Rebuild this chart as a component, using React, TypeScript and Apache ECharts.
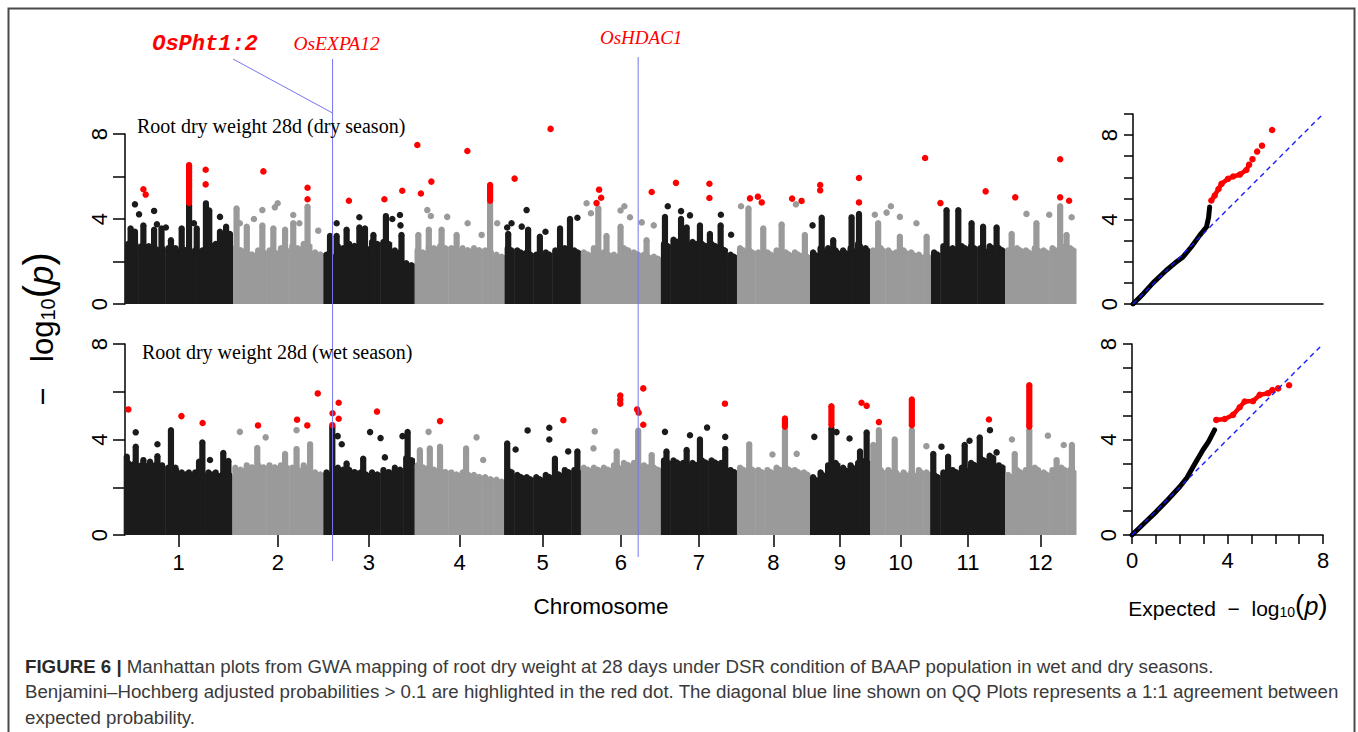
import { useEffect, useRef } from 'react';
import * as echarts from 'echarts';

// ---------- data ----------
const chromosomes = ['1', '2', '3', '4', '5', '6', '7', '8', '9', '10', '11', '12'];
const chrLengthsMb = [42.0, 35.7, 35.7, 35.3, 29.8, 31.4, 29.8, 28.6, 23.5, 23.9, 29.0, 27.8];

// dense band top (-log10 p) per chromosome, equal segments along each chromosome
const dryFloor = [
  [2.8, 2.7, 2.6, 2.6, 2.6, 2.5, 2.8, 2.6],
  [2.6, 2.4, 2.5, 2.5, 2.6, 2.7, 2.8, 2.4],
  [2.3, 2.7, 2.8, 2.7, 2.9, 2.9, 2.5, 1.9],
  [2.5, 2.7, 2.7, 2.6, 2.6, 2.6, 2.5, 2.3],
  [2.6, 2.5, 2.4, 2.3, 2.4, 2.5, 2.6, 2.5],
  [2.4, 2.6, 2.4, 2.3, 2.6, 2.4, 2.3, 2.2],
  [2.8, 3.0, 2.9, 2.9, 2.8, 2.8, 2.6, 2.3],
  [2.6, 2.5, 2.4, 2.4, 2.5, 2.4, 2.4, 2.3],
  [2.4, 2.6, 2.6, 2.5, 2.5, 2.6, 2.8, 2.6],
  [2.5, 2.6, 2.5, 2.4, 2.5, 2.4, 2.3, 2.3],
  [2.4, 2.7, 2.6, 2.7, 2.7, 2.6, 2.7, 2.6],
  [2.5, 2.6, 2.5, 2.6, 2.5, 2.6, 2.7, 2.6],
];
const wetFloor = [
  [3.0, 2.9, 2.9, 2.8, 2.6, 2.6, 2.6, 2.5],
  [2.8, 2.9, 2.9, 2.9, 2.9, 2.8, 2.9, 2.6],
  [2.6, 2.8, 2.7, 2.6, 2.6, 2.7, 2.8, 3.2],
  [2.9, 2.8, 2.7, 2.6, 2.6, 2.5, 2.4, 2.3],
  [2.7, 2.5, 2.4, 2.4, 2.5, 2.6, 2.7, 2.7],
  [2.8, 2.8, 2.8, 2.9, 3.0, 3.0, 2.9, 2.8],
  [3.1, 3.1, 3.0, 3.0, 3.1, 3.1, 3.0, 2.7],
  [2.8, 2.8, 2.7, 2.7, 2.8, 2.8, 2.7, 2.6],
  [2.4, 2.6, 2.9, 3.0, 2.8, 2.9, 3.0, 3.1],
  [2.8, 2.7, 2.7, 2.6, 2.6, 2.6, 2.7, 2.6],
  [2.5, 2.6, 2.7, 2.8, 3.0, 3.2, 3.3, 2.9],
  [2.5, 2.7, 2.7, 2.8, 2.6, 2.7, 2.8, 2.7],
];

// dense columns of SNPs: [genome position Mb, top]
const drySpikes = [
  [2.2, 3.56], [3.9, 3.4], [7.2, 3.7], [11.4, 3.5], [14.3, 3.56], [18.0, 3.0], [22.2, 3.56], [25.1, 4.66], [28.1, 3.56], [31.7, 4.74], [33.0, 4.4], [37.2, 3.4], [39.6, 3.64], [41.1, 3.3],
  [43.7, 4.5], [47.7, 3.64], [53.8, 3.7], [58.1, 3.56], [62.7, 3.5], [65.9, 3.8], [71.5, 4.58],
  [80.3, 3.2], [82.9, 3.2], [86.8, 3.5], [91.8, 3.6], [94.0, 3.56], [97.3, 3.25], [102.2, 4.14], [108.3, 3.25],
  [114.9, 3.25], [119.0, 3.5], [124.0, 3.5], [129.9, 3.25], [143.0, 4.74],
  [150.1, 3.3], [157.9, 3.5], [162.5, 3.17], [170.4, 3.56], [174.3, 4.0],
  [185.4, 4.5], [188.6, 3.2], [194.1, 3.64], [204.3, 3.0],
  [211.5, 4.1], [217.8, 4.0], [220.0, 3.6], [225.2, 3.7], [229.1, 3.3], [233.3, 3.7],
  [244.2, 4.5], [250.0, 3.56], [257.2, 3.75], [266.3, 3.25],
  [272.9, 4.06], [277.4, 3.0], [284.6, 4.08], [287.5, 4.24],
  [295.0, 3.8], [303.5, 3.17], [314.0, 3.17],
  [321.8, 4.42], [326.4, 4.42], [331.6, 3.8], [336.1, 3.64], [341.4, 3.6],
  [347.3, 3.3], [357.0, 3.8], [366.3, 4.6], [368.8, 3.25],
];
const dryDots = [
  [3.9, 4.69], [5.5, 4.22], [11.4, 4.38], [12.5, 3.75], [16.0, 3.6], [27.0, 3.8], [37.2, 4.1],
  [45.0, 3.8], [50.5, 4.0], [53.8, 4.42], [58.7, 4.55], [59.8, 4.74], [65.9, 4.19], [68.3, 3.8], [75.7, 3.45],
  [82.9, 3.8], [91.8, 4.08], [104.7, 4.0], [107.7, 4.19], [107.9, 3.7],
  [118.4, 4.42], [119.8, 4.14], [126.2, 4.1], [134.2, 3.8], [139.7, 3.25], [145.8, 3.8],
  [149.7, 3.6], [151.4, 3.8], [155.4, 3.64], [157.3, 4.42], [164.7, 3.4], [177.2, 4.06],
  [180.8, 4.74], [182.5, 4.27], [194.1, 4.4], [195.6, 4.6], [197.8, 4.08], [202.4, 3.84], [207.1, 3.7],
  [212.6, 4.6], [217.8, 4.37], [221.3, 4.17], [233.4, 4.2], [237.4, 3.26],
  [241.3, 4.6], [262.8, 4.69], [269.3, 3.7],
  [293.7, 4.2], [298.3, 4.3], [300.0, 4.6], [303.5, 4.1], [310.0, 3.8],
  [353.1, 4.24], [362.0, 4.2], [370.8, 4.08],
];
const dryRed = [
  [7.2, 5.4], [8.1, 5.15], [31.6, 6.32], [31.6, 5.63],
  [54.2, 6.24], [71.5, 4.93], [71.5, 5.47],
  [87.7, 4.86], [101.6, 4.93], [108.6, 5.33],
  [114.5, 7.48], [115.9, 5.2], [120.0, 5.76], [134.1, 7.2],
  [152.6, 5.9], [166.7, 8.24],
  [184.7, 4.75], [185.7, 5.38], [186.5, 5.0], [206.3, 5.27],
  [215.8, 5.7], [228.9, 5.66], [228.9, 4.99],
  [244.8, 4.97], [247.9, 5.05], [249.4, 4.78], [261.3, 4.96], [265.0, 4.85],
  [272.3, 5.6], [272.3, 5.35], [287.5, 5.93], [287.5, 4.78],
  [313.4, 6.87],
  [319.4, 4.75], [337.1, 5.3],
  [348.7, 5.02], [366.3, 6.81], [366.3, 5.02], [369.8, 4.86],
];
// runs of significant SNPs: [position Mb, lowest, highest]
const dryRedRuns = [[25.1, 4.75, 6.54], [143.0, 4.85, 5.6]];

const wetSpikes = [
  [0.7, 3.28], [4.2, 3.7], [7.2, 3.14], [9.8, 3.07], [12.7, 3.3], [18.0, 4.39], [29.0, 3.07], [30.3, 3.88], [38.5, 3.44], [40.5, 3.1],
  [51.8, 3.65], [62.7, 3.4], [67.2, 3.6], [72.5, 3.8],
  [81.2, 4.53], [86.8, 3.0], [93.3, 3.2], [110.7, 4.32],
  [115.5, 3.55], [119.4, 3.63], [123.4, 3.7], [133.6, 3.63],
  [149.7, 3.84], [168.4, 3.2], [177.2, 3.5],
  [192.6, 3.5], [201.0, 4.37], [206.3, 3.35],
  [212.1, 3.5], [220.0, 3.56], [225.2, 4.0], [235.1, 3.6],
  [244.5, 3.8], [258.5, 4.39],
  [276.7, 4.46], [287.9, 3.5], [290.5, 4.3],
  [293.1, 3.77], [295.3, 4.39], [301.5, 4.0], [308.2, 4.39],
  [316.6, 3.4], [322.4, 3.28], [328.9, 3.77], [334.8, 4.09],
  [348.5, 3.4], [354.2, 4.39], [364.9, 3.14], [370.9, 3.77],
];
const wetDots = [
  [4.2, 4.3], [12.7, 3.8], [33.3, 3.14],
  [45.0, 4.32], [55.1, 4.09], [67.2, 4.39],
  [83.3, 4.14], [84.9, 3.8], [96.0, 4.31], [100.1, 4.06], [101.8, 3.25], [108.7, 4.14],
  [118.9, 4.32], [137.7, 4.09], [140.3, 3.14],
  [153.0, 3.58], [157.7, 4.38], [166.2, 4.49], [166.2, 4.0], [173.6, 3.5],
  [184.0, 4.34], [183.5, 3.63],
  [211.5, 4.32], [221.3, 4.18], [228.0, 4.5], [235.1, 4.11],
  [253.6, 3.37], [263.1, 3.4],
  [270.0, 4.11], [278.7, 4.31], [283.8, 4.04],
  [313.9, 3.72],
  [319.8, 3.7], [330.8, 3.95], [338.8, 4.39], [341.4, 3.46],
  [347.4, 4.0], [361.5, 4.16], [367.7, 3.77],
];
const wetRed = [
  [1.3, 5.26], [22.1, 4.98], [30.4, 4.69],
  [52.1, 4.59], [67.4, 4.83], [71.4, 4.59], [75.5, 5.93],
  [81.3, 5.1], [81.2, 4.6], [83.7, 5.54], [83.7, 4.87], [98.7, 5.17],
  [123.4, 4.77],
  [171.7, 4.81],
  [194.0, 5.84], [194.0, 5.67], [194.0, 5.5], [200.6, 5.26], [201.2, 5.12], [203.0, 6.14], [203.0, 4.62],
  [235.0, 5.5],
  [288.5, 5.54], [290.5, 5.41],
  [295.3, 4.73],
  [338.4, 4.84],
];
const wetRedRuns = [[258.5, 4.53, 4.88], [276.7, 4.6, 5.4], [308.2, 4.59, 5.68], [354.2, 4.53, 6.28]];

// QQ plots: [expected, observed]
const qqDryBlack = [[0, 0], [0.5, 0.5], [0.95, 1.0], [1.58, 1.6], [2.0, 1.95], [2.37, 2.23], [2.76, 2.7], [3.16, 3.25], [3.48, 3.65], [3.58, 4.1], [3.63, 4.59]];
const qqDryRedDense = [[3.71, 4.9], [3.87, 5.14], [4.05, 5.45], [4.19, 5.69], [4.5, 5.93], [4.74, 6.04], [5.06, 6.13], [5.37, 6.35], [5.5, 6.6]];
const qqDryRedSparse = [[5.66, 6.86], [5.88, 7.22], [6.11, 7.5], [6.59, 8.24]];
const qqWetBlack = [[0, 0], [0.5, 0.48], [1.02, 0.98], [1.5, 1.48], [2.0, 2.02], [2.3, 2.4], [2.56, 2.86], [2.97, 3.56], [3.2, 3.9], [3.46, 4.4]];
const qqWetRedDense = [[3.53, 4.82], [3.88, 4.86], [4.23, 5.03], [4.51, 5.35], [4.72, 5.59], [5.07, 5.61], [5.35, 5.87], [5.7, 5.94], [5.88, 6.07]];
const qqWetRedSparse = [[6.12, 6.14], [6.58, 6.27]];
const qqDryDiagonal = [[0, 0], [9, 9]];
const qqWetDiagonal = [[0, 0], [8, 8]];

const genes = [
  { name: 'OsEXPA12', pos: 81.3 },
  { name: 'OsHDAC1', pos: 201.0 },
];

const captionLines = [
  '{b|FIGURE 6 |} Manhattan plots from GWA mapping of root dry weight at 28 days under DSR condition of BAAP population in wet and dry seasons.',
  'Benjamini–Hochberg adjusted probabilities > 0.1 are highlighted in the red dot. The diagonal blue line shown on QQ Plots represents a 1:1 agreement between',
  'expected probability.',
];

// ---------- helpers ----------
const BLACK = '#1b1b1b';
const GRAY = '#9a9a9a';
const RED = '#ff0000';
const SANS = "'Liberation Sans', Arial, sans-serif";
const SERIF = "'Liberation Serif', 'Times New Roman', serif";

const chrStarts: number[] = [];
{
  let acc = 0;
  for (const l of chrLengthsMb) { chrStarts.push(acc); acc += l; }
}
const genomeLength = chrLengthsMb.reduce((a, b) => a + b, 0);
const chrMids = chrLengthsMb.map((l, i) => chrStarts[i] + l / 2);

function chrIndexAt(mb: number) {
  for (let i = 0; i < chrLengthsMb.length; i++) {
    if (mb < chrStarts[i] + chrLengthsMb[i]) return i;
  }
  return chrLengthsMb.length - 1;
}
const chrColor = (mb: number) => (chrIndexAt(mb) % 2 ? GRAY : BLACK);

function floorData(floor: number[][]) {
  const out: number[][] = [];
  floor.forEach((segs, i) => {
    const w = chrLengthsMb[i] / segs.length;
    segs.forEach((h, j) => out.push([chrStarts[i] + j * w, chrStarts[i] + (j + 1) * w, h, i % 2]));
  });
  return out;
}

const R = 3.1;
// dense band: solid block whose top edge is drawn as a row of overlapping SNP dots
const floorRender = (_p: any, api: any) => {
  const a = api.coord([api.value(0), 0]);
  const b = api.coord([api.value(1), api.value(2)]);
  const fill = api.value(3) ? GRAY : BLACK;
  const children: any[] = [
    { type: 'rect', shape: { x: a[0], y: b[1], width: b[0] - a[0] + 0.5, height: a[1] - b[1] }, style: { fill } },
  ];
  const n = Math.max(1, Math.round((b[0] - a[0] - 2 * R) / 4.5));
  for (let k = 0; k <= n; k++) {
    const cx = a[0] + R + ((b[0] - a[0] - 2 * R) * k) / n;
    children.push({ type: 'circle', shape: { cx, cy: b[1] + (k % 2 ? 1.5 : -0.5), r: R }, style: { fill } });
  }
  return { type: 'group', children };
};
const spikeRender = (_p: any, api: any) => {
  const x = api.value(0);
  const fill = chrColor(x);
  const b = api.coord([x, 0]);
  const t = api.coord([x, api.value(1)]);
  return {
    type: 'group',
    children: [
      { type: 'rect', shape: { x: t[0] - R, y: t[1], width: 2 * R, height: b[1] - t[1] }, style: { fill } },
      { type: 'circle', shape: { cx: t[0], cy: t[1], r: R }, style: { fill } },
    ],
  };
};
const runRender = (_p: any, api: any) => {
  const x = api.value(0);
  const lo = api.coord([x, api.value(1)]);
  const hi = api.coord([x, api.value(2)]);
  return {
    type: 'group',
    children: [
      { type: 'rect', shape: { x: hi[0] - R, y: hi[1], width: 2 * R, height: lo[1] - hi[1] }, style: { fill: RED } },
      { type: 'circle', shape: { cx: hi[0], cy: hi[1], r: R }, style: { fill: RED } },
      { type: 'circle', shape: { cx: lo[0], cy: lo[1], r: R }, style: { fill: RED } },
    ],
  };
};

function manhattanSeries(idx: number, floor: number[][], spikes: number[][], dots: number[][], red: number[][], runs: number[][]) {
  return [
    { type: 'custom', xAxisIndex: idx, yAxisIndex: idx, renderItem: floorRender, data: floorData(floor), clip: false, silent: true },
    { type: 'custom', xAxisIndex: idx, yAxisIndex: idx, renderItem: spikeRender, data: spikes, clip: false, silent: true },
    { type: 'scatter', xAxisIndex: idx, yAxisIndex: idx, data: dots, symbolSize: 6.5, clip: false, silent: true, itemStyle: { opacity: 1, color: (p: any) => chrColor(p.value[0]) } },
    { type: 'custom', xAxisIndex: idx, yAxisIndex: idx, renderItem: runRender, data: runs, clip: false, silent: true },
    { type: 'scatter', xAxisIndex: idx, yAxisIndex: idx, data: red, symbolSize: 6.5, clip: false, silent: true, itemStyle: { opacity: 1, color: RED } },
  ];
}

function qqSeries(idx: number, black: number[][], dense: number[][], sparse: number[][], diag: number[][]) {
  return [
    { type: 'line', xAxisIndex: idx, yAxisIndex: idx, data: black, showSymbol: false, lineStyle: { color: '#000', width: 5, cap: 'round', join: 'round' }, silent: true },
    { type: 'line', xAxisIndex: idx, yAxisIndex: idx, data: dense, symbol: 'circle', symbolSize: 6.5, itemStyle: { color: RED, opacity: 1 }, lineStyle: { color: RED, width: 4.5, join: 'round' }, silent: true },
    { type: 'scatter', xAxisIndex: idx, yAxisIndex: idx, data: sparse, symbolSize: 6.5, itemStyle: { color: RED, opacity: 1 }, clip: false, silent: true },
    { type: 'line', xAxisIndex: idx, yAxisIndex: idx, data: diag, showSymbol: false, lineStyle: { color: '#1a1aff', width: 1.4, type: [5, 4] }, silent: true, z: 5 },
  ];
}

const axisLineStyle = { color: '#000', width: 1.5 };
const mhYAxis = (gridIndex: number) => ({
  type: 'value', gridIndex, min: 0, max: 8, interval: 2,
  axisLine: { show: true, lineStyle: axisLineStyle },
  axisTick: { show: true, length: 12, lineStyle: axisLineStyle },
  splitLine: { show: false },
  axisLabel: { rotate: 90, margin: 15, fontSize: 22, color: '#000', fontFamily: SANS, formatter: (v: number) => (v % 4 === 0 ? String(v) : '') },
});

export default function App() {
  const ref = useRef<HTMLDivElement>(null);
  useEffect(() => {
    if (!ref.current) return;
    const chart = echarts.init(ref.current, undefined, { renderer: 'svg' });
    const option: any = {
      animation: false,
      backgroundColor: '#ffffff',
      grid: [
        { left: 125, top: 134, width: 951, height: 170 },
        { left: 125, top: 344, width: 951, height: 191 },
        { left: 1133, top: 114, width: 190, height: 190 },
        { left: 1132, top: 344, width: 191, height: 191 },
      ],
      xAxis: [
        { type: 'value', gridIndex: 0, min: 0, max: genomeLength, show: false },
        {
          type: 'value', gridIndex: 1, min: 0, max: genomeLength,
          axisLine: { show: false },
          splitLine: { show: false },
          axisTick: { show: true, length: 12, customValues: chrMids, lineStyle: axisLineStyle },
          axisLabel: {
            customValues: chrMids, margin: 16, fontSize: 22, color: '#000', fontFamily: SANS,
            formatter: (v: number) => {
              const i = chrMids.findIndex((m) => Math.abs(m - v) < 0.01);
              return i >= 0 ? chromosomes[i] : '';
            },
          },
        },
        {
          type: 'value', gridIndex: 2, min: 0, max: 9, interval: 1,
          axisLine: { show: true, lineStyle: axisLineStyle }, axisTick: { show: false }, axisLabel: { show: false }, splitLine: { show: false },
        },
        {
          type: 'value', gridIndex: 3, min: 0, max: 8, interval: 1,
          axisLine: { show: true, lineStyle: axisLineStyle },
          axisTick: { show: true, length: 9, lineStyle: axisLineStyle },
          splitLine: { show: false },
          axisLabel: { margin: 14, fontSize: 22, color: '#000', fontFamily: SANS, formatter: (v: number) => (v % 4 === 0 ? String(v) : '') },
        },
      ],
      yAxis: [
        mhYAxis(0),
        mhYAxis(1),
        {
          type: 'value', gridIndex: 2, min: 0, max: 9, interval: 1,
          axisLine: { show: true, lineStyle: axisLineStyle },
          axisTick: { show: true, length: 9, lineStyle: axisLineStyle },
          splitLine: { show: false },
          axisLabel: { rotate: 90, margin: 13, fontSize: 22, color: '#000', fontFamily: SANS, formatter: (v: number) => (v % 4 === 0 ? String(v) : '') },
        },
        {
          type: 'value', gridIndex: 3, min: 0, max: 8, interval: 1,
          axisLine: { show: true, lineStyle: axisLineStyle },
          axisTick: { show: true, length: 9, lineStyle: axisLineStyle },
          splitLine: { show: false },
          axisLabel: { rotate: 90, margin: 13, fontSize: 22, color: '#000', fontFamily: SANS, formatter: (v: number) => (v % 4 === 0 ? String(v) : '') },
        },
      ],
      series: [
        ...manhattanSeries(0, dryFloor, drySpikes, dryDots, dryRed, dryRedRuns),
        ...manhattanSeries(1, wetFloor, wetSpikes, wetDots, wetRed, wetRedRuns),
        ...qqSeries(2, qqDryBlack, qqDryRedDense, qqDryRedSparse, qqDryDiagonal),
        ...qqSeries(3, qqWetBlack, qqWetRedDense, qqWetRedSparse, qqWetDiagonal),
      ],
    };
    chart.setOption(option);

    const gx = genes.map((g) => (chart.convertToPixel({ xAxisIndex: 0 }, g.pos) as number));
    const lineColor = '#7676ee';
    const txt = (x: number, y: number, text: string, font: any, extra: any = {}) => ({
      type: 'text', x, y, z: 100,
      style: { text, fill: '#000', align: 'center', verticalAlign: 'middle', textAlign: 'center', textVerticalAlign: 'middle', ...font, ...extra },
    });
    const graphic: any[] = [
      { type: 'rect', z: 100, shape: { x: 8.5, y: 8.5, width: 1346, height: 800 }, style: { fill: 'none', stroke: '#4a4a4a', lineWidth: 2 } },
      // gene annotation lines
      { type: 'line', z: 100, shape: { x1: gx[0], y1: 59, x2: gx[0], y2: 561 }, style: { stroke: lineColor, lineWidth: 1 } },
      { type: 'line', z: 100, shape: { x1: gx[1], y1: 57, x2: gx[1], y2: 557 }, style: { stroke: lineColor, lineWidth: 1 } },
      { type: 'line', z: 100, shape: { x1: 233, y1: 59, x2: gx[0], y2: 113 }, style: { stroke: lineColor, lineWidth: 1 } },
      txt(205, 44, 'OsPht1:2', { fontFamily: "'Liberation Mono', 'Courier New', monospace", fontSize: 22, fontWeight: 'bold', fontStyle: 'italic', fill: RED }),
      txt(gx[0] + 4, 43, 'OsEXPA12', { fontFamily: SERIF, fontSize: 19.5, fontStyle: 'italic', fill: RED }),
      txt(gx[1] + 3, 37, 'OsHDAC1', { fontFamily: SERIF, fontSize: 19, fontStyle: 'italic', fill: RED }),
      // panel titles
      txt(137, 126, 'Root dry weight 28d (dry season)', { fontFamily: SERIF, fontSize: 20 }, { align: 'left', textAlign: 'left' }),
      txt(142, 352, 'Root dry weight 28d (wet season)', { fontFamily: SERIF, fontSize: 20 }, { align: 'left', textAlign: 'left' }),
      // axis titles
      {
        type: 'text', x: 36, y: 329, rotation: Math.PI / 2, z: 100,
        style: {
          text: '{a|−   log}{s|10}{b|(}{i|p}{b|)}', fill: '#000', align: 'center', verticalAlign: 'middle', textAlign: 'center', textVerticalAlign: 'middle',
          rich: {
            a: { fontFamily: SANS, fontSize: 31, verticalAlign: 'bottom', lineHeight: 40 },
            s: { fontFamily: SANS, fontSize: 20, verticalAlign: 'bottom', lineHeight: 32 },
            b: { fontFamily: SANS, fontSize: 40, verticalAlign: 'bottom', lineHeight: 44 },
            i: { fontFamily: SANS, fontSize: 35, fontStyle: 'italic', verticalAlign: 'bottom', lineHeight: 41 },
          },
        },
      },
      txt(601, 606, 'Chromosome', { fontFamily: SANS, fontSize: 22.5 }),
      {
        type: 'text', x: 1228, y: 603, z: 100,
        style: {
          text: '{a|Expected  −  log}{s|10}{b|(}{i|p}{b|)}', fill: '#000', align: 'center', verticalAlign: 'middle', textAlign: 'center', textVerticalAlign: 'middle',
          rich: {
            a: { fontFamily: SANS, fontSize: 21, verticalAlign: 'bottom', lineHeight: 28 },
            s: { fontFamily: SANS, fontSize: 14, verticalAlign: 'bottom', lineHeight: 22 },
            b: { fontFamily: SANS, fontSize: 28, verticalAlign: 'bottom', lineHeight: 31 },
            i: { fontFamily: SANS, fontSize: 25, fontStyle: 'italic', verticalAlign: 'bottom', lineHeight: 29 },
          },
        },
      },
      // caption
      ...captionLines.map((line, k) => ({
        type: 'text', x: 25, y: 666 + k * 25.5, z: 100,
        style: {
          text: line, fill: '#3a3a3a', fontFamily: SANS, fontSize: 18.7,
          align: 'left', verticalAlign: 'middle', textAlign: 'left', textVerticalAlign: 'middle',
          rich: { b: { fontFamily: SANS, fontSize: 18.7, fontWeight: 'bold', fill: '#2a2a2a' } },
        },
      })),
    ];
    chart.setOption({ graphic });
    return () => chart.dispose();
  }, []);
  return <div ref={ref} style={{ position: 'fixed', left: 0, top: 0, width: 1358, height: 732, background: '#fff' }} />;
}
